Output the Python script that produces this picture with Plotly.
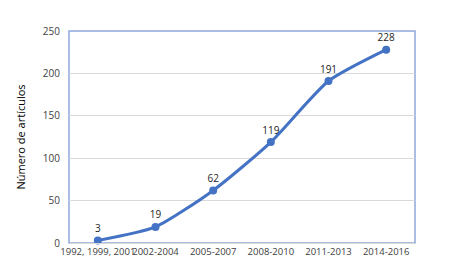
import plotly.graph_objects as go

categories = ["1992, 1999, 2001", "2002-2004", "2005-2007", "2008-2010", "2011-2013", "2014-2016"]
values = [3, 19, 62, 119, 191, 228]
y_ticks = [0, 50, 100, 150, 200, 250]

fig = go.Figure()
fig.add_trace(go.Scatter(
    x=categories, y=values, mode="lines+markers+text",
    line=dict(color="#4472C4", width=3, shape="spline", smoothing=0.6),
    marker=dict(color="#4472C4", size=8),
    text=[str(v) for v in values], textposition="top center",
    textfont=dict(family="Open Sans", size=10, color="#262626"),
    cliponaxis=False, hoverinfo="skip",
))

fig.add_shape(type="rect", xref="paper", yref="paper", x0=0, x1=1, y0=0, y1=1,
              line=dict(color="#8EA9DB", width=1.5), layer="below")

fig.update_layout(
    width=451, height=268,
    margin=dict(l=69, r=36, t=31, b=25, autoexpand=False),
    paper_bgcolor="white", plot_bgcolor="white",
    showlegend=False,
    font=dict(family="Open Sans", color="#595959"),
)
fig.update_xaxes(
    type="category", tickangle=0, tickfont=dict(size=9.5, color="#404040"),
    showgrid=False, showline=True, linecolor="#D9D9D9", linewidth=1,
    ticks="", range=[-0.5, 5.5], fixedrange=True, automargin=False,
)
fig.update_yaxes(
    range=[0, 250], tickvals=y_ticks, tickfont=dict(size=10, color="#404040"),
    showgrid=True, gridcolor="#D9D9D9", gridwidth=1, zeroline=False,
    ticklabelstandoff=8, automargin=False, fixedrange=True,
    title=dict(text="Número de artículos", font=dict(size=11, color="#000000"), standoff=14),
)

fig.write_html("out.html", config={"displayModeBar": False},
               post_script="document.body.style.margin='0';")
